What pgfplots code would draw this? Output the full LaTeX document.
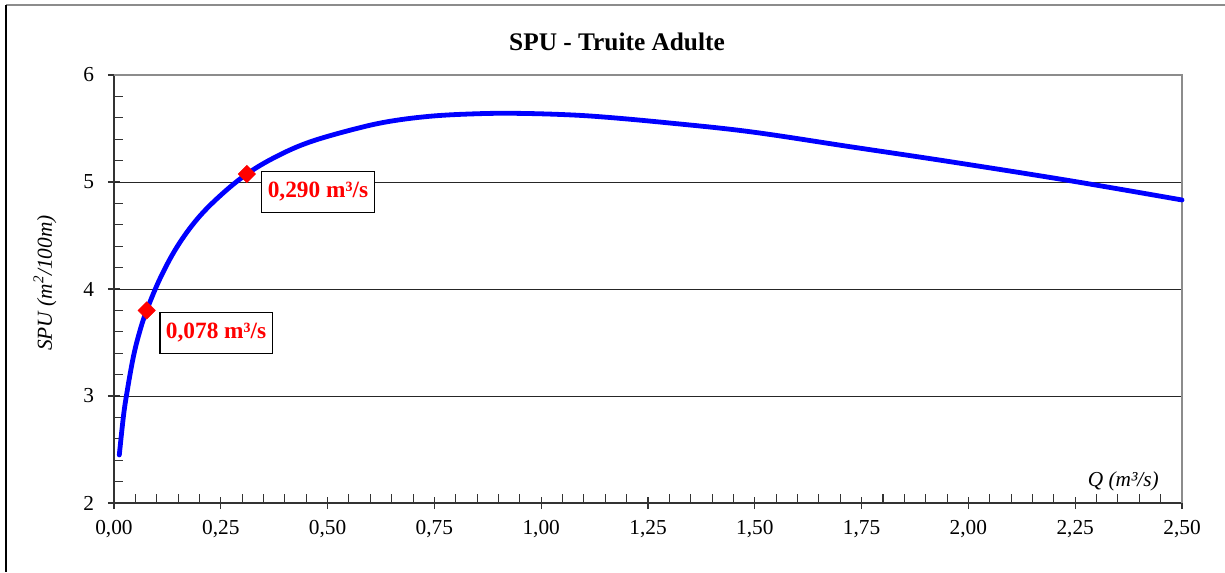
\documentclass[border=0pt]{standalone}
\usepackage{pgfplots}
\pgfplotsset{compat=1.18}
\usepackage{fontspec}
\setmainfont{Liberation Serif}
\begin{document}
\begin{tikzpicture}
\useasboundingbox (0,0) rectangle (918.75pt,-429pt);
\draw[line width=1.5pt, color=black!45] (4.5pt,-3.75pt) -- (918.75pt,-3.75pt);
\draw[line width=1.2pt, black] (4.5pt,-3.75pt) -- (4.5pt,-429pt);
\begin{axis}[
  at={(85.5pt,-377.25pt)}, anchor=south west,
  scale only axis, width=801pt, height=321pt,
  xmin=0, xmax=2.5, ymin=2, ymax=6,
  axis lines=left, axis line style={-, line width=1.1pt, black!80},
  xtick={0,0.25,...,2.5}, ytick={2,3,4,5,6},
  minor x tick num=4, minor y tick num=4,
  tick align=center, major tick length=9pt, minor tick length=7pt,
  tick style={line width=0.8pt, black!80},
  minor x tick style={yshift=3.5pt},
  minor y tick style={xshift=3.5pt},
  extra y ticks={3,4,5}, extra y tick labels={},
  extra y tick style={grid=major, major tick length=0pt},
  grid style={line width=0.75pt, black!85},
  /pgf/number format/assume math mode=true,
  ticklabel style={font=\fontsize{16}{19}\selectfont},
  xticklabel style={/pgf/number format/.cd, fixed, fixed zerofill, precision=2, use comma, /tikz/.cd, yshift=-5pt},
  yticklabel style={xshift=-7pt},
  title={SPU - Truite Adulte},
  title style={font=\bfseries\fontsize{19}{23}\selectfont, at={(rel axis cs:0.471,1.058)}, anchor=center},
  xlabel={\textit{Q (m³/s)}},
  xlabel style={font=\fontsize{16}{19}\selectfont, at={(rel axis cs:0.945,0.050)}, anchor=center},
  ylabel={\textit{SPU (m\textsuperscript{2}/100m)}},
  ylabel style={font=\fontsize{16}{19}\selectfont, at={(rel axis cs:-0.0646,0.514)}, anchor=center, rotate=0},
  clip=false,
]
\draw[line width=1.5pt, color=black!45] (rel axis cs:0,1) -- (rel axis cs:1,1) -- (rel axis cs:1,0);
\addplot[color={rgb,255:red,0;green,0;blue,255}, line width=3.6pt, smooth, tension=0.6, line cap=round] coordinates {
(0.0124,2.449)
(0.022,2.807)
(0.030,3.025)
(0.045,3.36)
(0.060,3.60)
(0.0765,3.80)
(0.108,4.10)
(0.147,4.39)
(0.194,4.65)
(0.248,4.87)
(0.311,5.075)
(0.381,5.24)
(0.459,5.375)
(0.568,5.50)
(0.650,5.57)
(0.747,5.617)
(0.850,5.638)
(0.935,5.642)
(1.040,5.632)
(1.138,5.610)
(1.294,5.554)
(1.489,5.470)
(1.723,5.330)
(1.957,5.190)
(2.238,5.012)
(2.50,4.832)
};
\addplot[only marks, mark=square*, mark size=4.6pt, mark options={rotate=45, fill=red, draw=red}] coordinates {
(0.0765,3.80)
(0.311,5.075)
};
\node[draw=black, line width=0.9pt, fill=white, text=red, font=\bfseries\fontsize{17.5}{21}\selectfont, inner xsep=4.5pt, minimum height=30.5pt] at (axis cs:0.4775,4.907) {0,290 m³/s};
\node[draw=black, line width=0.9pt, fill=white, text=red, font=\bfseries\fontsize{17.5}{21}\selectfont, inner xsep=4.5pt, minimum height=30.5pt] at (axis cs:0.239,3.589) {0,078 m³/s};
\end{axis}
\end{tikzpicture}
\end{document}
